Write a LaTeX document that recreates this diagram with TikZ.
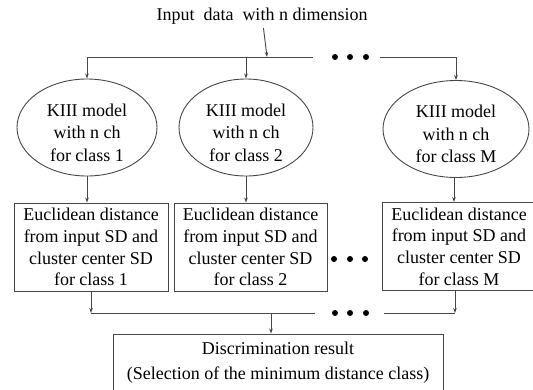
\documentclass[tikz,border=0pt]{standalone}
\usepackage{fontspec}
\setmainfont{Liberation Serif}
\usetikzlibrary{positioning, shapes.geometric, arrows.meta}
\definecolor{wire}{RGB}{70, 70, 70}

\tikzset{
  model/.style={draw=wire, ellipse, minimum height=97, inner sep=0},
  inside/.style={align=center, yshift=-5pt, font=\fontsize{18}{22.5}\selectfont},
  dist/.style={draw=wire, rectangle, minimum width=154, minimum height=88,
               inner sep=0, align=center},
  result/.style={draw=wire, rectangle, minimum width=330, minimum height=57,
                 inner sep=0, align=center, font=\fontsize{18}{25}\selectfont},
  bead/.style={circle, fill=black, inner sep=0, minimum size=6}
}

\begin{document}
\begin{tikzpicture}[x=1pt, y=-1pt, line width=0.9pt, draw=wire,
                    font=\fontsize{18}{21.7}\selectfont,
                    >={Stealth[length=5pt, width=3.5pt]}]

  \useasboundingbox (0, 0) rectangle (533, 389);

  \node (input) at (262, 16) {Input\ \ data\ \ with n dimension};

  \node [model, minimum width=140, label={[inside]center:KIII model\\with n ch\\for class 1}] (k1) at (87, 127.5) {};
  \node [model, minimum width=134, label={[inside]center:KIII model\\with n ch\\for class 2}] (k2) at (246, 127.5) {};
  \node [model, minimum width=146, label={[inside]center:KIII model\\with n ch\\for class M}] (kM) at (456, 129) {};

  \node [dist] (ed1) at (91, 247) {Euclidean distance\\from input SD and\\cluster center SD\\for class 1};
  \node [dist, minimum width=153] (ed2) at (250.5, 247) {Euclidean distance\\from input SD and\\cluster center SD\\for class 2};
  \node [dist] (edM) at (459, 246.5) {Euclidean distance\\from input SD and\\cluster center SD\\for class M};

  \node [result] (result) at (278, 362.5) {Discrimination result\\(Selection of the minimum distance class)};

  % dots
  \foreach \x/\i in {335/1, 350/2, 366/3} {
    \node [bead] (top\i) at (\x, 57) {};
    \node [bead] (bot\i) at (\x, 313) {};
  }
  \foreach \x/\i in {334/1, 350/2, 365/3}
    \node [bead] (mid\i) at (\x, 259) {};

  % fan out
  \coordinate (split) at (267, 57);
  \coordinate (tl) at (313, 57);
  \coordinate (tr) at (380, 57);
  \draw [->] (input) -- (split);
  \draw (k1 |- split) -- (tl);
  \draw (tr) -- (kM |- split);
  \draw [->] (k1 |- split) -- (k1);
  \draw [->] (k2 |- split) -- (k2);
  \draw [->] (kM |- split) -- (kM);

  \draw [->] (k1.south) -- (k1.south |- ed1.north);
  \draw [->] (k2.south) -- (k2.south |- ed2.north);
  \draw [->] ([xshift=-2pt]kM.south) -- ([xshift=-2pt]kM.south |- edM.north);

  % fan in
  \coordinate (join) at (271, 313);
  \coordinate (bl) at (315, 313);
  \coordinate (br) at (384, 313);
  \coordinate (outM) at (455, 313);
  \draw [->] (ed1.south) -- (ed1.south |- join);
  \draw [->] (outM |- edM.south) -- (outM);
  \draw (ed1.south |- join) -- (bl);
  \draw (br) -- (outM);
  \draw [->] (join) -- (join |- result.north);

\end{tikzpicture}
\end{document}
